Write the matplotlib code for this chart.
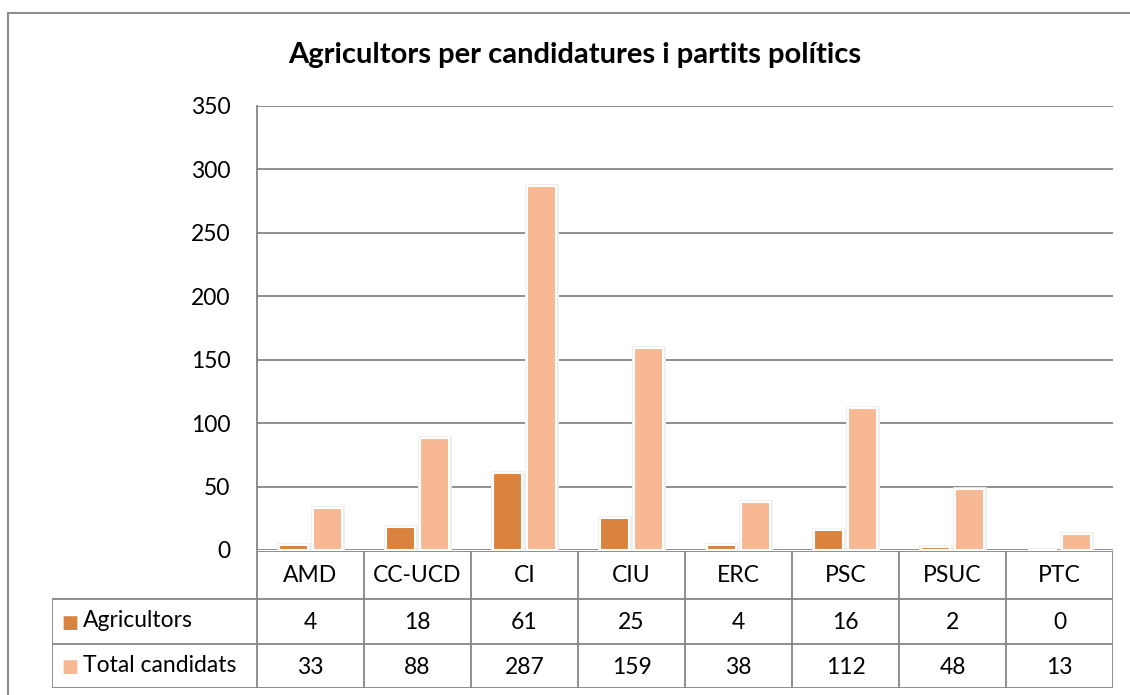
import matplotlib.pyplot as plt
import matplotlib.patheffects as pe
import numpy as np

plt.rcParams['font.family'] = ['Lato', 'DejaVu Sans']

partits = ["AMD", "CC-UCD", "CI", "CIU", "ERC", "PSC", "PSUC", "PTC"]
agricultors = [4, 18, 61, 25, 4, 16, 2, 0]
total_candidats = [33, 88, 287, 159, 38, 112, 48, 13]
series_names = ["Agricultors", "Total candidats"]
yticks = [0, 50, 100, 150, 200, 250, 300, 350]

dark = "#D9833F"
light = "#F8B893"
grid = "#868686"
fs = 16.5

W, H = 1130, 695
fig = plt.figure(figsize=(W / 100, H / 100), dpi=100)

def fx(px):
    return px / W

def fy(py):
    return 1 - py / H

# plot area in pixel coordinates
left, right, top, bottom = 257, 1113, 106, 550
ax = fig.add_axes([fx(left), fy(bottom), fx(right - left), fy(top) - fy(bottom)])

x = np.arange(len(partits))
w = 0.27
shadow = [pe.Stroke(linewidth=3.5, foreground="#eeeeee"), pe.Normal()]
b1 = ax.bar(x - w / 2 - 0.02, agricultors, w, color=dark, edgecolor="white", linewidth=1.5)
b2 = ax.bar(x + w / 2 + 0.02, total_candidats, w, color=light, edgecolor="white", linewidth=1.5)
for b in list(b1) + list(b2):
    b.set_path_effects(shadow)

ax.set_xlim(-0.5, len(partits) - 0.5)
ax.set_ylim(0, 350)
ax.set_yticks(yticks)
ax.set_yticklabels([str(v) for v in yticks], fontsize=fs)
ax.tick_params(axis="y", length=0, pad=19)
ax.set_xticks([])
ax.yaxis.grid(True, color=grid, linewidth=1.3)
ax.set_axisbelow(True)
for s in ["top", "right", "bottom"]:
    ax.spines[s].set_visible(False)
ax.spines["left"].set_color(grid)
ax.spines["left"].set_linewidth(1.3)

fig.text(fx(575), fy(55), "Agricultors per candidatures i partits polítics",
         ha="center", va="center", fontsize=21, fontweight="bold")

# data table under the chart
t_left, t_top, t_bot = 52, 551, 688
row1, row2 = 599, 644
col_w = (right - left) / len(partits)
tax = fig.add_axes([fx(t_left), fy(t_bot), fx(right - t_left), fy(t_top) - fy(t_bot)])
extra = (left - t_left) / col_w
tax.set_xlim(-0.5 - extra, len(partits) - 0.5)
tax.set_ylim(t_bot, t_top)
tax.axis("off")

lc = dict(color=grid, linewidth=1.3, solid_capstyle="projecting")
tax.plot([-0.5, len(partits) - 0.5], [t_top, t_top], **lc)
tax.plot([-0.5 - extra, len(partits) - 0.5], [row1, row1], **lc)
tax.plot([-0.5 - extra, len(partits) - 0.5], [row2, row2], **lc)
tax.plot([-0.5 - extra, len(partits) - 0.5], [t_bot, t_bot], **lc)
tax.plot([-0.5 - extra, -0.5 - extra], [row1, t_bot], **lc)
for i in range(len(partits) + 1):
    tax.plot([i - 0.5, i - 0.5], [t_top, t_bot], **lc)

for i, p in enumerate(partits):
    tax.text(i, (t_top + row1) / 2 + 1, p, ha="center", va="center", fontsize=fs)
    tax.text(i, (row1 + row2) / 2 + 1, str(agricultors[i]), ha="center", va="center", fontsize=fs)
    tax.text(i, (row2 + t_bot) / 2 + 1, str(total_candidats[i]), ha="center", va="center", fontsize=fs)

lx = -0.5 - extra + 0.09
for yy, name, col in [((row1 + row2) / 2, series_names[0], dark),
                      ((row2 + t_bot) / 2, series_names[1], light)]:
    tax.text(lx, yy + 1, "■", color=col, ha="left", va="center", fontsize=13,
             family=["DejaVu Sans"])
    tax.text(lx + 0.2, yy - 1, name, ha="left", va="center", fontsize=fs)

# outer chart border
fig.add_artist(plt.Line2D([fx(8), fx(8)], [fy(13), 0], color="#8c8c8c", linewidth=1.5))
fig.add_artist(plt.Line2D([fx(8), 1], [fy(13), fy(13)], color="#8c8c8c", linewidth=1.5))

fig.savefig("out.png", dpi=100, facecolor="white")
